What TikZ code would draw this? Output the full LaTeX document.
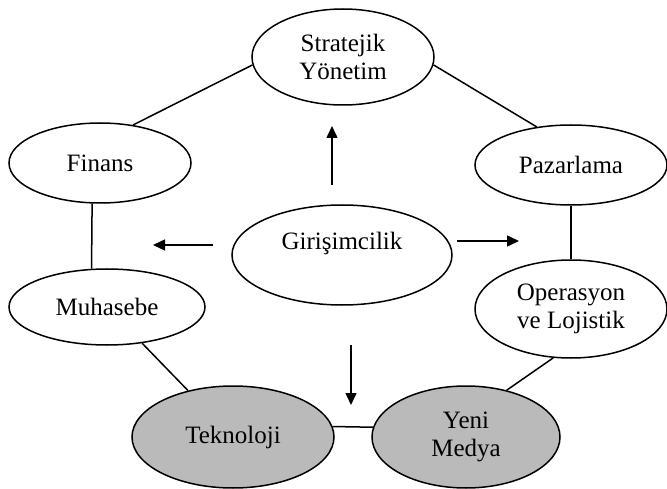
\documentclass[tikz,border=0pt]{standalone}
\usepackage{fontspec}
\setmainfont{Liberation Serif}
\usetikzlibrary{shapes.geometric,arrows.meta}
\definecolor{ovalgray}{RGB}{186,186,186}
\begin{document}
\begin{tikzpicture}[x=1pt,y=-1pt,
  oval/.style={ellipse, draw=black, line width=1.5pt, inner sep=0pt, align=center,
               font=\fontsize{25}{28}\selectfont},
  greyoval/.style={oval, fill=ovalgray},
  link/.style={line width=1.5pt},
  flow/.style={line width=1.5pt, -{Triangle[length=12pt,width=11pt]}},
  txt/.style={inner sep=0pt, font=\fontsize{25}{28}\selectfont}]
\useasboundingbox (0,0) rectangle (667,489);
% ellipses
\node[oval, minimum width=182pt, minimum height=96pt] (S) at (343,57) {Stratejik\\Yönetim};
\node[oval, minimum width=182pt, minimum height=80pt] (F) at (100,163) {Finans};
\node[oval, minimum width=192pt, minimum height=80pt] (P) at (571,165) {Pazarlama};
\node[oval, minimum width=220pt, minimum height=100pt] (G) at (342,255) {};
\node[txt] (Gt) at (342,243) {Girişimcilik};
\node[oval, minimum width=196pt, minimum height=76pt] (M) at (107,307) {Muhasebe};
\node[oval, minimum width=192pt, minimum height=98pt] (O) at (571,309) {Operasyon\\ve Lojistik};
\node[greyoval, minimum width=202pt, minimum height=102pt] (T) at (233,437) {Teknoloji};
\node[greyoval, minimum width=188pt, minimum height=102pt] (Y) at (466,437) {Yeni\\Medya};
% links
\draw[link] (S.185) -- (F.49);
\draw[link] (S.355) -- (P.132);
\draw[link] (F.259) -- (M.112);
\draw[link] (P.south) -- (O.north);
\draw[link] (M) -- (T);
\draw[link] (O.250) -- (Y.49);
\draw[link] (T.6) -- (Y.174);
% arrows
\coordinate (u0) at (332,185); \coordinate (u1) at (332,126);
\coordinate (l0) at (213,245); \coordinate (l1) at (153,245);
\coordinate (r0) at (457,241); \coordinate (r1) at (519,241);
\coordinate (d0) at (351,345); \coordinate (d1) at (351,405);
\draw[flow] (u0) -- (u1);
\draw[flow] (l0) -- (l1);
\draw[flow] (r0) -- (r1);
\draw[flow] (d0) -- (d1);
\end{tikzpicture}
\end{document}
